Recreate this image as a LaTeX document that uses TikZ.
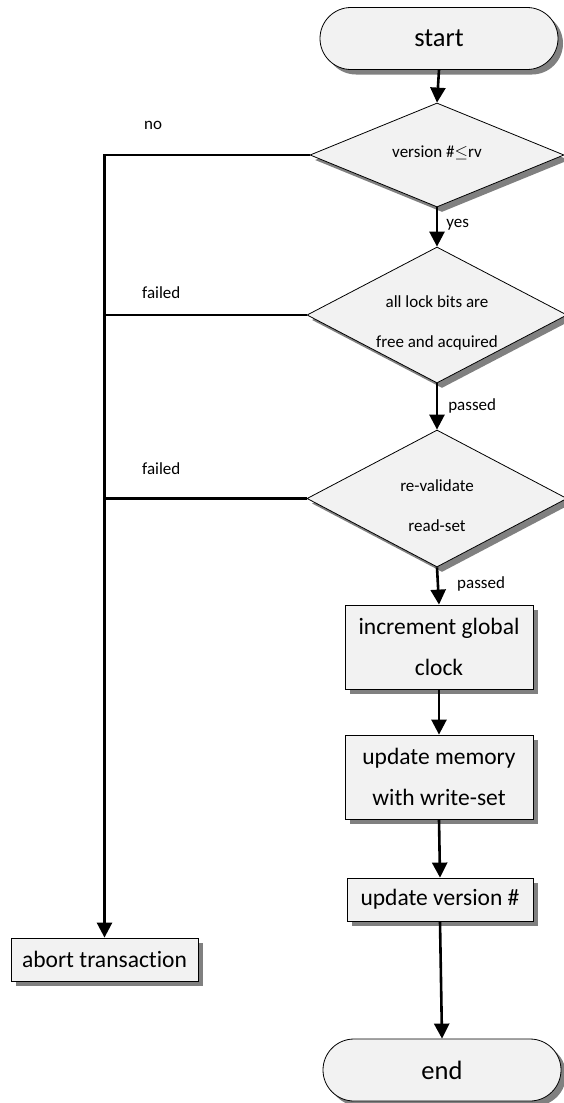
\documentclass[tikz,border=0pt]{standalone}
\usepackage{fontspec}
\setmainfont{Carlito}[Ligatures=NoCommon]
\usetikzlibrary{shapes.geometric,shapes.misc,shadows,arrows.meta}
\definecolor{boxfill}{HTML}{F2F2F2}
\definecolor{shadowgray}{HTML}{808080}
\begin{document}
\begin{tikzpicture}[x=1pt,y=-1pt,
  shade/.style={drop shadow={shadow xshift=5pt,shadow yshift=-5pt,fill=shadowgray,opacity=1}},
  term/.style={rounded rectangle,draw=black,line width=0.8pt,fill=boxfill,shade,inner sep=0pt,
     minimum width=238pt,minimum height=62pt,font=\fontsize{26.5}{30}\selectfont},
  dia/.style={diamond,draw=black,line width=0.8pt,fill=boxfill,shade,inner sep=0pt},
  proc/.style={rectangle,draw=black,line width=0.8pt,fill=boxfill,shade,inner sep=0pt,
     align=center,font=\fontsize{23.5}{41}\selectfont},
  small/.style={font=\fontsize{17}{40}\selectfont,align=center,inner sep=0pt},
  lab/.style={font=\fontsize{17}{20}\selectfont,inner sep=0pt,anchor=west},
  flow/.style={line width=2.6pt,-{Triangle[width=15pt,length=15pt]}},
  branch/.style={line width=2.6pt}]
\useasboundingbox (0,0) rectangle (563,1103);

\node[term] (start) at (439,38.5) {start};
\node[dia,minimum width=254pt,minimum height=104pt] (d1) at (437,155) {};
\node[small] (t1) at (437,153) {version \#$\leq$rv};
\node[dia,minimum width=260pt,minimum height=136pt] (d2) at (437,315) {};
\node[small] (t2) at (437,323) {all lock bits are\\free and acquired};
\node[dia,minimum width=260pt,minimum height=137pt] (d3) at (437,498.5) {};
\node[small] (t3) at (437,506) {re-validate\\read-set};
\node[proc,minimum width=188pt,minimum height=84pt] (b1) at (439,647) {increment global\\clock};
\node[proc,minimum width=188pt,minimum height=84pt] (b2) at (439,777) {update memory\\with write-set};
\node[proc,minimum width=186pt,minimum height=43pt] (b3) at (440,899.5) {update version \#};
\node[proc,minimum width=187pt,minimum height=43pt] (abort) at (104.5,959.5) {abort transaction};
\node[term] (end) at (442,1070) {end};

\draw[flow] (start.south) -- (d1.north);
\draw[flow] (d1.south) -- (d2.north) node[lab,pos=0.45,xshift=8pt] (yes) {yes};
\draw[flow] (d2.south) -- (d3.north) node[lab,pos=0.48,xshift=10pt] (p1) {passed};
\draw[flow] (d3.south) -- (b1.north) node[lab,pos=0.45,xshift=18pt] (p2) {passed};
\draw[flow] (b1.south) -- (b2.north);
\draw[flow] (b2.south) -- (b3.north);
\draw[flow] (b3.south) -- (end.north);

\draw[flow] (d1.west) -| (abort.north);
\draw[branch] (d2.west) -- (d2.west -| abort.north);
\draw[branch] (d3.west) -- (d3.west -| abort.north);

\node[lab] (no) at (144,125) {no};
\node[lab] (f1) at (142,293) {failed};
\node[lab] (f2) at (142,469) {failed};
\end{tikzpicture}
\end{document}
